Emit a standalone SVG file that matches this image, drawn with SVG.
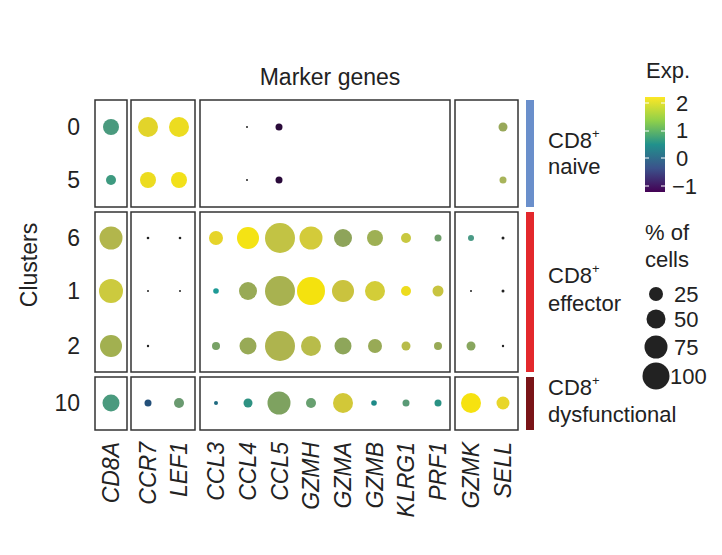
<svg xmlns="http://www.w3.org/2000/svg" width="722" height="555" viewBox="0 0 722 555">
<defs>
<linearGradient id="vir" x1="0" y1="1" x2="0" y2="0">
<stop offset="0" stop-color="#440154"/><stop offset="0.25" stop-color="#3b528b"/><stop offset="0.5" stop-color="#21918c"/><stop offset="0.75" stop-color="#8fd04a"/><stop offset="1" stop-color="#fde725"/>
</linearGradient>
<style>
text{font-family:"Liberation Sans",Arial,sans-serif;fill:#222}
.box{fill:none;stroke:#333;stroke-width:1.5}
.t{font-size:23px}
.g{font-size:23px;font-style:italic}
.l{font-size:22px}
</style>
</defs>
<rect width="722" height="555" fill="#fff"/>
<text x="330" y="85" class="t" text-anchor="middle">Marker genes</text>
<text transform="translate(37,265) rotate(-90)" class="t" text-anchor="middle" font-size="25">Clusters</text>
<g id="rowlabels" class="t" text-anchor="end">
<text x="80" y="135">0</text><text x="80" y="188">5</text><text x="80" y="246">6</text><text x="80" y="299">1</text><text x="80" y="354">2</text><text x="80" y="411">10</text>
</g>
<g id="boxes">
<rect class="box" x="95" y="100" width="32" height="107"/><rect class="box" x="131" y="100" width="64" height="107"/><rect class="box" x="200" y="100" width="250" height="107"/><rect class="box" x="455" y="100" width="63" height="107"/>
<rect class="box" x="95" y="212" width="32" height="160"/><rect class="box" x="131" y="212" width="64" height="160"/><rect class="box" x="200" y="212" width="250" height="160"/><rect class="box" x="455" y="212" width="63" height="160"/>
<rect class="box" x="95" y="377" width="32" height="53"/><rect class="box" x="131" y="377" width="64" height="53"/><rect class="box" x="200" y="377" width="250" height="53"/><rect class="box" x="455" y="377" width="63" height="53"/>
</g>
<g id="dots">
<circle cx="111" cy="127" r="8" fill="#4a9a7e"/><circle cx="148" cy="127" r="10" fill="#e2d42a"/><circle cx="179" cy="127" r="10" fill="#ecdc20"/><circle cx="247" cy="127" r="1" fill="#222"/><circle cx="279" cy="127" r="3.5" fill="#2a0a3a"/><circle cx="503" cy="127" r="4.5" fill="#98a85a"/>
<circle cx="111" cy="180" r="5" fill="#3e9a80"/><circle cx="148" cy="180" r="8" fill="#ecdc20"/><circle cx="179" cy="180" r="8" fill="#f2e11a"/><circle cx="247" cy="180" r="1" fill="#222"/><circle cx="279" cy="180" r="3.5" fill="#2a0a3a"/><circle cx="503" cy="180" r="3.5" fill="#a8b45a"/>
<circle cx="111" cy="238" r="11.5" fill="#b2b64c"/><circle cx="148" cy="238" r="1.3" fill="#222"/><circle cx="180" cy="238" r="1.3" fill="#222"/><circle cx="216" cy="238" r="7" fill="#e6d42a"/><circle cx="248" cy="238" r="11" fill="#f4e314"/><circle cx="280" cy="238" r="15" fill="#c2c344"/><circle cx="311" cy="238" r="11.5" fill="#d3cb3a"/><circle cx="343" cy="238" r="9" fill="#8ea45a"/><circle cx="375" cy="238" r="8" fill="#9eb054"/><circle cx="406" cy="238" r="5" fill="#c8c840"/><circle cx="438" cy="238" r="3.5" fill="#6e9e6a"/><circle cx="471" cy="238" r="3" fill="#4a9a86"/><circle cx="503" cy="238" r="1.5" fill="#222"/>
<circle cx="111" cy="291" r="12" fill="#ccca3e"/><circle cx="148" cy="291" r="1" fill="#222"/><circle cx="180" cy="291" r="1" fill="#222"/><circle cx="216" cy="291" r="2.8" fill="#1e9a96"/><circle cx="248" cy="291" r="9" fill="#98aa56"/><circle cx="280" cy="291" r="15" fill="#a8b250"/><circle cx="311" cy="291" r="14" fill="#f4e20e"/><circle cx="343" cy="291" r="11" fill="#cac33e"/><circle cx="375" cy="291" r="10" fill="#d3cd38"/><circle cx="406" cy="291" r="5" fill="#eddc1e"/><circle cx="438" cy="291" r="5.5" fill="#c8c440"/><circle cx="471" cy="291" r="1" fill="#222"/><circle cx="503" cy="291" r="1.5" fill="#222"/>
<circle cx="111" cy="346" r="11" fill="#a2b050"/><circle cx="148" cy="346" r="1.2" fill="#222"/><circle cx="216" cy="346" r="4" fill="#78a266"/><circle cx="248" cy="346" r="8.5" fill="#98aa56"/><circle cx="280" cy="346" r="15" fill="#aeb44e"/><circle cx="311" cy="346" r="10" fill="#b8bc4a"/><circle cx="343" cy="346" r="8.5" fill="#8ea65a"/><circle cx="375" cy="346" r="7" fill="#98aa56"/><circle cx="406" cy="346" r="4.5" fill="#b8bc4a"/><circle cx="438" cy="346" r="4" fill="#98aa56"/><circle cx="471" cy="346" r="4.5" fill="#88a65e"/><circle cx="503" cy="346" r="1.2" fill="#222"/>
<circle cx="111" cy="403" r="8.5" fill="#4a9a7e"/><circle cx="148" cy="403" r="3.5" fill="#24507a"/><circle cx="179" cy="403" r="5" fill="#6a9a70"/><circle cx="216" cy="403" r="2" fill="#1e6a80"/><circle cx="248" cy="403" r="4.5" fill="#2e9282"/><circle cx="279" cy="403" r="11.5" fill="#7ea260"/><circle cx="311" cy="403" r="5" fill="#68a070"/><circle cx="343" cy="403" r="10" fill="#d2c838"/><circle cx="374" cy="403" r="2.8" fill="#1e8a88"/><circle cx="406" cy="403" r="3.5" fill="#5a9a76"/><circle cx="438" cy="403" r="3.5" fill="#2a9284"/><circle cx="471" cy="403" r="10" fill="#f6e210"/><circle cx="503" cy="403" r="6.5" fill="#e8d62a"/>
</g>
<g id="genes" class="g" text-anchor="end">
<text transform="translate(119,442) rotate(-90)">CD8A</text>
<text transform="translate(156,442) rotate(-90)">CCR7</text>
<text transform="translate(187,442) rotate(-90)">LEF1</text>
<text transform="translate(224,442) rotate(-90)">CCL3</text>
<text transform="translate(256,442) rotate(-90)">CCL4</text>
<text transform="translate(288,442) rotate(-90)">CCL5</text>
<text transform="translate(319,442) rotate(-90)">GZMH</text>
<text transform="translate(351,442) rotate(-90)">GZMA</text>
<text transform="translate(383,442) rotate(-90)">GZMB</text>
<text transform="translate(414,442) rotate(-90)">KLRG1</text>
<text transform="translate(446,442) rotate(-90)">PRF1</text>
<text transform="translate(479,442) rotate(-90)">GZMK</text>
<text transform="translate(511,442) rotate(-90)">SELL</text>
</g>
<g id="groups">
<rect x="526" y="100" width="8" height="107" fill="#6a8fcb"/>
<rect x="526" y="212" width="8" height="160" fill="#e3282c"/>
<rect x="526" y="377" width="8" height="53" fill="#7a1418"/>
<text x="548" y="148" class="l">CD8<tspan font-size="13" dy="-10">+</tspan></text><text x="548" y="174" class="l">naive</text>
<text x="548" y="283" class="l">CD8<tspan font-size="13" dy="-10">+</tspan></text><text x="548" y="311" class="l">effector</text>
<text x="548" y="395" class="l">CD8<tspan font-size="13" dy="-10">+</tspan></text><text x="548" y="422" class="l">dysfunctional</text>
</g>
<g id="legend">
<text x="646" y="78" class="l" font-size="23">Exp.</text>
<rect x="645" y="97" width="20" height="95" fill="url(#vir)"/>
<g stroke="#fff" stroke-width="1"><line x1="645" y1="103" x2="649" y2="103"/><line x1="661" y1="103" x2="665" y2="103"/><line x1="645" y1="131" x2="649" y2="131"/><line x1="661" y1="131" x2="665" y2="131"/><line x1="645" y1="158" x2="649" y2="158"/><line x1="661" y1="158" x2="665" y2="158"/><line x1="645" y1="186" x2="649" y2="186"/><line x1="661" y1="186" x2="665" y2="186"/></g>
<text x="676" y="111" class="l">2</text><text x="676" y="138" class="l">1</text><text x="676" y="166" class="l">0</text><text x="672" y="194" class="l">−1</text>
<text x="645" y="240" class="l" font-size="24">% of</text><text x="645" y="267" class="l" font-size="24">cells</text>
<circle cx="656" cy="294" r="7" fill="#222"/><circle cx="656" cy="319" r="9.5" fill="#222"/><circle cx="656" cy="347" r="11.5" fill="#222"/><circle cx="656" cy="376" r="13.5" fill="#222"/>
<text x="674" y="302" class="l">25</text><text x="674" y="327" class="l">50</text><text x="674" y="355" class="l">75</text><text x="670" y="384" class="l">100</text>
</g>
</svg>
